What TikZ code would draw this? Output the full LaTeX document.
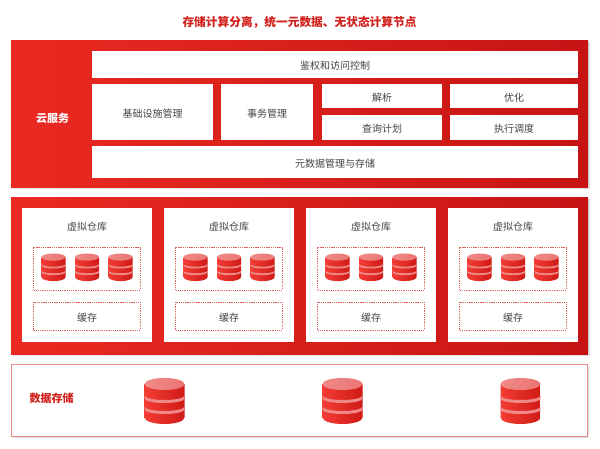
\documentclass[tikz,border=0pt]{standalone}
\usepackage{fontspec}
\setmainfont{Noto Sans CJK SC}
\usepackage{xcolor}
\usetikzlibrary{shadows}
\definecolor{deepred}{HTML}{D2201C}
\definecolor{leftred}{HTML}{EA2A22}
\definecolor{rightred}{HTML}{C61414}
\definecolor{softred}{HTML}{F08A88}
\definecolor{inktext}{HTML}{444444}
\definecolor{dbleft}{HTML}{F23C34}
\definecolor{dbright}{HTML}{D01A16}
\tikzset{
  panel/.style={left color=leftred, right color=rightred, draw=none, inner sep=0pt,
    drop shadow={shadow xshift=1.5pt, shadow yshift=-1.5pt, fill=black, opacity=0.12}},
  whitebox/.style={fill=white, draw=none, inner sep=0pt, text=inktext, text height=12pt, text depth=1.5pt,
    font=\fontsize{10}{12}\selectfont},
  dashbox/.style={draw=deepred!70, dash pattern=on 1.3pt off 0.9pt, line width=0.6pt, inner sep=0pt, text=inktext,
    text height=12pt, text depth=1.5pt, font=\fontsize{10}{12}\selectfont},
  dbstack/.pic={
    % body
    \path[left color=dbleft, right color=dbright]
      (-20,6) -- (-20,39.5) arc[start angle=180, end angle=0, x radius=20, y radius=6.5] -- (20,6) -- cycle;
    % top
    \path[left color=softred, right color=softred!80!deepred] (0,6) ellipse[x radius=20, y radius=6];
    % bands
    \fill[softred] (-20,17.5) arc[start angle=180, end angle=0, x radius=20, y radius=4.5]
      -- (20,20.5) arc[start angle=0, end angle=180, x radius=20, y radius=4.5] -- cycle;
    \fill[softred] (-20,28.5) arc[start angle=180, end angle=0, x radius=20, y radius=4.5]
      -- (20,31.5) arc[start angle=0, end angle=180, x radius=20, y radius=4.5] -- cycle;
  }
}
\begin{document}
\begin{tikzpicture}[x=1pt, y=-1pt]
  \useasboundingbox (0,0) rectangle (600,449);
  \fill[white] (0,0) rectangle (600,449);

  % Title
  \node[text=deepred, font=\fontsize{11.7}{14}\selectfont\bfseries] (title) at (299.5,22) {存储计算分离，统一元数据、无状态计算节点};

  % Cloud services
  \node[panel, minimum width=577pt, minimum height=147pt] (cloud) at (299.5,114.5) {};
  \node[text=white, font=\fontsize{11}{13}\selectfont\bfseries] (cloudlabel) at (52.5,118) {云服务};
  \node[whitebox, minimum width=486pt, minimum height=27pt] (auth) at (335,64.5) {鉴权和访问控制};
  \node[whitebox, minimum width=121pt, minimum height=56pt] (infra) at (152.5,112) {基础设施管理};
  \node[whitebox, minimum width=92pt, minimum height=56pt] (trans) at (267,112) {事务管理};
  \node[whitebox, minimum width=120pt, minimum height=24pt] (parse) at (382,96) {解析};
  \node[whitebox, minimum width=128pt, minimum height=24pt] (optim) at (514,96) {优化};
  \node[whitebox, minimum width=120pt, minimum height=25pt] (plan) at (382,127.5) {查询计划};
  \node[whitebox, minimum width=128pt, minimum height=25pt] (sched) at (514,127.5) {执行调度};
  \node[whitebox, minimum width=486pt, minimum height=32pt] (meta) at (335,162) {元数据管理与存储};

  % Virtual warehouses
  \node[panel, minimum width=577pt, minimum height=156pt] (compute) at (299.5,276) {};
  \foreach \name/\cx in {a/87, b/229, c/371, d/513} {
    \node[whitebox, minimum width=130pt, minimum height=134pt] (card\name) at (\cx,275) {};
    \node[text=inktext, text height=10.5pt, text depth=1.5pt, font=\fontsize{10}{12}\selectfont] (head\name) at (\cx,226.5) {虚拟仓库};
    \node[dashbox, minimum width=107pt, minimum height=43pt] (disks\name) at (\cx,268.5) {};
    \node[dashbox, minimum width=107pt, minimum height=28pt] (cache\name) at (\cx,316) {缓存};
    \pic[scale=0.6] (dba\name) at (\cx-33.5,253.5) {dbstack};
    \pic[scale=0.6] (dbb\name) at (\cx,253.5) {dbstack};
    \pic[scale=0.6] (dbc\name) at (\cx+33.5,253.5) {dbstack};
  }

  % Data storage
  \node[draw=softred, line width=0.9pt, fill=white, inner sep=0pt, minimum width=576pt, minimum height=72pt,
    drop shadow={shadow xshift=1.5pt, shadow yshift=-1.5pt, fill=black, opacity=0.12}] (storage) at (299.5,400) {};
  \node[text=deepred, font=\fontsize{11}{13}\selectfont\bfseries] (storagelabel) at (51.5,398) {数据存储};
  \pic (stora) at (164.5,378) {dbstack};
  \pic (storb) at (342.5,378) {dbstack};
  \pic (storc) at (520.5,378) {dbstack};
\end{tikzpicture}
\end{document}
